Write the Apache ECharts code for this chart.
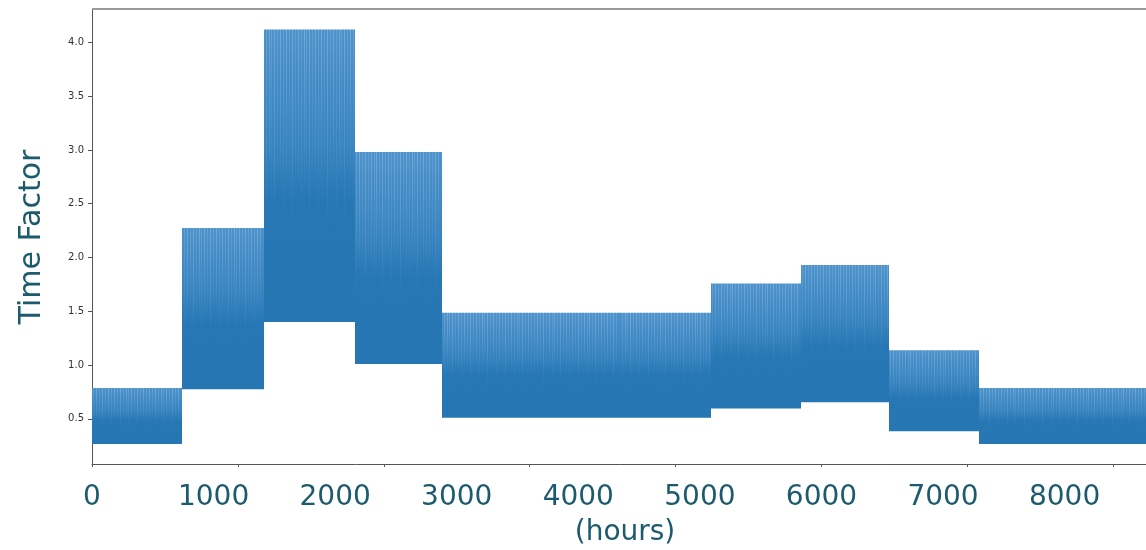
<!DOCTYPE html>
<html>
<head>
<meta charset="utf-8">
<script src="https://cdn.jsdelivr.net/npm/echarts@6/dist/echarts.min.js"></script>
<style>
html,body{margin:0;padding:0;background:#fff;}
#chart{width:1146px;height:550px;}
</style>
</head>
<body>
<div id="chart"></div>
<script>
// Hours in each month (Jan..Dec)
const monthHours = [744, 672, 744, 720, 744, 720, 744, 744, 720, 744, 720, 744];
// Daily low / high time factor per month
const monthMin = [0.265, 0.775, 1.40, 1.01, 0.51, 0.51, 0.51, 0.595, 0.655, 0.385, 0.265, 0.265];
const monthMax = [0.787, 2.275, 4.12, 2.98, 1.485, 1.485, 1.485, 1.757, 1.93, 1.137, 0.787, 0.787];
// Axis labels / ticks
const xLabelValues = [0, 1000, 2000, 3000, 4000, 5000, 6000, 7000, 8000];
const xTickValues = [0, 1200, 2400, 3600, 4800, 6000, 7200, 8400];
const yLabelValues = [0.5, 1.0, 1.5, 2.0, 2.5, 3.0, 3.5, 4.0];

const blocks = [];
let start = 0;
for (let i = 0; i < monthHours.length; i++) {
  blocks.push([start, start + monthHours[i], monthMin[i], monthMax[i], monthHours[i] / 24]);
  start += monthHours[i];
}

const teal = '#1c5a6d';
const chart = echarts.init(document.getElementById('chart'), null, {renderer: 'canvas'});

function renderItem(params, api) {
  const s = api.value(0), e = api.value(1), lo = api.value(2), hi = api.value(3), days = api.value(4);
  const p1 = api.coord([s, hi]);
  const p2 = api.coord([e, lo]);
  const x1 = Math.round(p1[0]), x2 = Math.round(p2[0]);
  const h = p2[1] - p1[1];
  const children = [{
    type: 'rect',
    shape: {x: x1, y: p1[1], width: x2 - x1, height: h},
    style: {
      fill: new echarts.graphic.LinearGradient(0, 0, 0, 1, [
        {offset: 0, color: '#4d92cb'},
        {offset: 0.4, color: '#3884c0'},
        {offset: 0.6, color: '#2677b4'},
        {offset: 1, color: '#2576b3'}
      ])
    }
  }];
  for (let d = 0; d < days; d++) {
    const x = Math.round(api.coord([s + d * 24 + 12, hi])[0]) + 0.5;
    if (x > x2 - 1) break;
    children.push({
      type: 'line',
      shape: {x1: x, y1: p1[1], x2: x, y2: p1[1] + h * (d % 3 === 0 ? 0.7 : 0.55)},
      style: {
        lineWidth: 1,
        stroke: new echarts.graphic.LinearGradient(0, 0, 0, 1, [
          {offset: 0, color: 'rgba(255,255,255,' + (d % 2 ? 0.22 : 0.14) + ')'},
          {offset: 1, color: 'rgba(255,255,255,0)'}
        ])
      }
    });
  }
  return {type: 'group', children: children};
}

chart.setOption({
  animation: false,
  backgroundColor: '#ffffff',
  grid: {left: 92, top: 9, bottom: 86, right: -11, show: false, containLabel: false, outerBoundsMode: 'none'},
  xAxis: {
    type: 'value',
    min: 0,
    max: 8760,
    axisLine: {show: true, onZero: false, lineStyle: {color: '#555', width: 1}},
    axisTick: {show: true, length: 3, customValues: xTickValues, lineStyle: {color: '#555'}},
    axisLabel: {
      customValues: xLabelValues,
      formatter: v => String(v),
      fontFamily: 'DejaVu Sans',
      fontSize: 28,
      color: teal,
      margin: 20
    },
    splitLine: {show: false}
  },
  yAxis: {
    type: 'value',
    min: 0.08,
    max: 4.31,
    axisLine: {show: true, lineStyle: {color: '#555', width: 1}},
    axisTick: {show: true, length: 4, customValues: yLabelValues, lineStyle: {color: '#555'}},
    axisLabel: {
      customValues: yLabelValues,
      formatter: v => v.toFixed(1),
      fontFamily: 'DejaVu Sans',
      fontSize: 10,
      color: '#333',
      margin: 8
    },
    splitLine: {show: false}
  },
  graphic: [
    {type: 'line', shape: {x1: 92, y1: 9, x2: 1146, y2: 9}, style: {stroke: '#999', lineWidth: 2}, z: 10},
    {type: 'text', x: 32, y: 237, rotation: Math.PI / 2,
     style: {text: 'Time Factor', fontFamily: 'DejaVu Sans', fontSize: 30, fill: teal, textAlign: 'center', textVerticalAlign: 'middle'}},
    {type: 'text', x: 625, y: 533,
     style: {text: '(hours)', fontFamily: 'DejaVu Sans', fontSize: 28, fill: teal, textAlign: 'center', textVerticalAlign: 'middle'}}
  ],
  series: [{
    type: 'custom',
    renderItem: renderItem,
    encode: {x: [0, 1], y: [2, 3]},
    data: blocks,
    clip: true
  }]
});
</script>
</body>
</html>
